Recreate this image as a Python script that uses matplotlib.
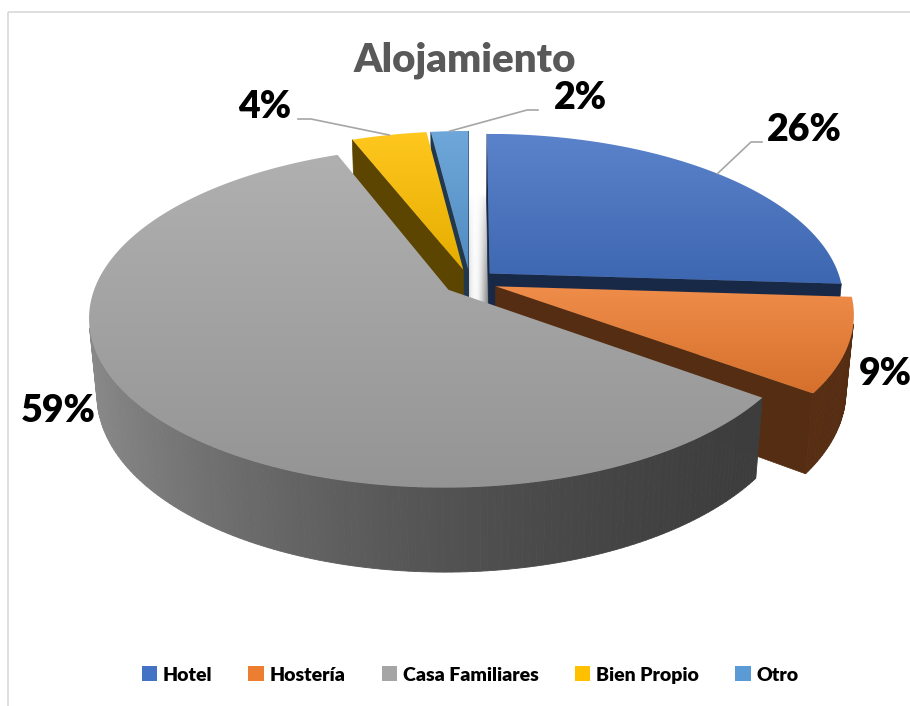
'''
3D exploded pie chart - Alojamiento
'''

######################################

import numpy as np
import matplotlib.pyplot as plt
from matplotlib.patches import Polygon, Patch, Rectangle
from matplotlib.colors import to_rgb

######################################

categories=['Hotel','Hostería','Casa Familiares','Bien Propio','Otro']
values=[26,9,59,4,2]
colors=['#4472C4','#ED7D31','#A5A5A5','#FFC000','#5B9BD5']
title='Alojamiento'

# label placement (pixels) and which side the leader line joins the text
labelPos=[(804,130),(885,374),(58,411),(265,107),(580,98)]
leaderSide=['left',None,None,'right','left']

plt.rcParams['font.family']=['Lato','DejaVu Sans']

######################################

# view set up (pixel space of a 910x706 image)
W,H=910,706
cx,cy=470,282
f=1980.
D=5.63
el=np.radians(27.8)
depth=0.246
explode=0.077
cam=np.array([0.,-D*np.cos(el),D*np.sin(el)])


def project(X,Y,Z):
  '''perspective projection of world points onto the image'''
  d=D+Y*np.cos(el)-Z*np.sin(el)
  sx=f*X/d
  sy=f*(Y*np.sin(el)+Z*np.cos(el))/d
  return np.column_stack([cx+sx,cy-sy])


def visible(P,n):
  '''back face test'''
  return np.dot(cam-P,n)>0


def wallShade(t):
  '''darkening of the rim as it turns away from the light'''
  return 0.36+0.49*((1-np.sin(t))/2)**1.8


######################################

fig=plt.figure(figsize=(W/100,H/100),dpi=100)
ax=fig.add_axes([0,0,1,1])

total=float(sum(values))
ends=np.cumsum(values)/total*2*np.pi
starts=np.append(0,ends[:-1])
mids=(starts+ends)/2

# slice centroid depth decides drawing order (back to front)
cent=[]
for a0,a1,m in zip(starts,ends,mids):
  half=(a1-a0)/2
  r=2/3*np.sin(half)/half
  cent.append((r+explode)*np.cos(m))
order=np.argsort(cent)[::-1]

# soft shadow left of the first slice's cut face
m=mids[0]
apTop=project(np.array([explode*np.sin(m)]),np.array([explode*np.cos(m)]),np.array([0.]))[0]
apBot=project(np.array([explode*np.sin(m)]),np.array([explode*np.cos(m)]),np.array([-depth]))[0]
prof=np.array([0.55,0.75,0.92,0.98,0.95,0.8,0.6,0.4])
sh=np.ones((40,len(prof),4))
sh[...,0]=prof[None,:]
sh[...,1]=prof[None,:]
sh[...,2]=prof[None,:]
sh[...,3]=np.linspace(0,1,40)[:,None]**0.6
ax.imshow(sh,extent=(apTop[0]-27,apTop[0],apBot[1]+4,apTop[1]-82),aspect='auto',zorder=0,interpolation='bilinear')

z=1
for i in order:
  a0,a1,m=starts[i],ends[i],mids[i]
  ox,oy=explode*np.sin(m),explode*np.cos(m)
  base=np.array(to_rgb(colors[i]))

  # radial faces
  for a,sgn in [(a0,-1),(a1,1)]:
    n=np.array([np.sin(a+sgn*np.pi/2),np.cos(a+sgn*np.pi/2),0])
    if visible(np.array([ox,oy,0]),n):
      X=np.array([ox,ox+np.sin(a),ox+np.sin(a),ox])
      Y=np.array([oy,oy+np.cos(a),oy+np.cos(a),oy])
      Zs=np.array([0,0,-depth,-depth])
      c=base*0.36
      ax.add_patch(Polygon(project(X,Y,Zs),closed=True,facecolor=c,edgecolor=c,lw=0.5,zorder=z))
      z+=1

  # outer rim
  nSeg=max(int(np.degrees(a1-a0)),2)
  t=np.linspace(a0,a1,nSeg+1)
  segs=[]
  for k in range(nSeg):
    tm=(t[k]+t[k+1])/2
    n=np.array([np.sin(tm),np.cos(tm),0])
    P=np.array([ox+np.sin(tm),oy+np.cos(tm),0])
    if visible(P,n):
      segs.append((np.cos(tm),k,tm))
  segs.sort(reverse=True)
  for _,k,tm in segs:
    X=ox+np.sin([t[k],t[k+1],t[k+1],t[k]])
    Y=oy+np.cos([t[k],t[k+1],t[k+1],t[k]])
    Zs=np.array([0,0,-depth,-depth])
    c=np.clip(base*wallShade(tm),0,1)
    ax.add_patch(Polygon(project(X,Y,Zs),closed=True,facecolor=c,edgecolor=c,lw=0.6,zorder=z))
  z+=1

  # top face with a soft vertical gradient
  tt=np.linspace(a0,a1,200)
  X=np.concatenate([[ox],ox+np.sin(tt)])
  Y=np.concatenate([[oy],oy+np.cos(tt)])
  pts=project(X,Y,np.zeros(X.shape))
  poly=Polygon(pts,closed=True,facecolor='none',edgecolor='none',zorder=z)
  ax.add_patch(poly)
  x0,y0=pts.min(axis=0)
  x1,y1=pts.max(axis=0)
  top=base+(1-base)*0.12
  bot=base*0.9
  g=np.linspace(0,1,64)[:,None,None]
  img=top[None,None,:]*(1-g)+bot[None,None,:]*g
  im=ax.imshow(img,extent=(x0,x1,y1,y0),aspect='auto',zorder=z,interpolation='bilinear')
  im.set_clip_path(poly)
  z+=1

# data labels and leader lines
for i,(lx,ly) in enumerate(labelPos):
  pct='%d%%'%round(values[i]/total*100)
  ax.text(lx,ly,pct,ha='center',va='center',fontsize=27,fontweight='heavy',color='black',zorder=z+2)
  if leaderSide[i] is None:
    continue
  m=mids[i]
  ox,oy=explode*np.sin(m),explode*np.cos(m)
  rim=project(np.array([ox+np.sin(m)]),np.array([oy+np.cos(m)]),np.array([0.]))[0]
  if leaderSide[i]=='left':
    endx=lx-42
    elbx=endx-11
  else:
    endx=lx+33
    elbx=endx+13
  ey=ly+12
  ax.plot([rim[0],elbx,endx],[rim[1],ey,ey],color='#a6a6a6',lw=1.2,zorder=z+1)

# title
ax.text(465,60,title,ha='center',va='center',fontsize=29,fontweight='heavy',color='#595959')

# chart border
ax.add_patch(Rectangle((8,12),W,H,facecolor='none',edgecolor='#d9d9d9',lw=1.2))

ax.set_xlim(0,W)
ax.set_ylim(H,0)
ax.axis('off')

# legend
handles=[Patch(facecolor=c,edgecolor='none') for c in colors]
fig.legend(handles,categories,loc='center',bbox_to_anchor=(470/W,1-675/H),ncol=5,frameon=False,
           prop={'weight':'heavy','size':14},handlelength=0.8,handleheight=0.8,handletextpad=0.3,columnspacing=1.85)

fig.savefig('out.png',dpi=100)
